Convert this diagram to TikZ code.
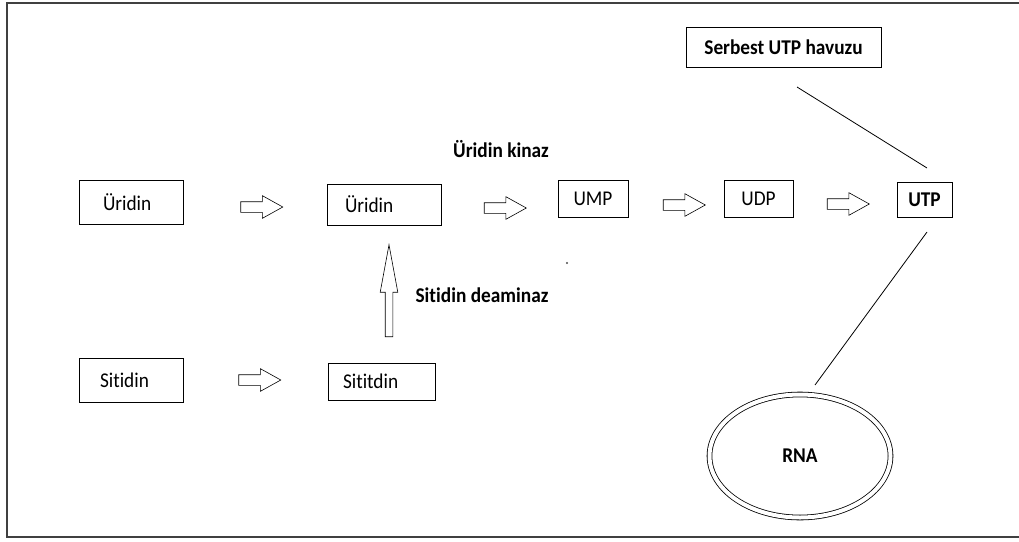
\documentclass[tikz,border=0pt]{standalone}
\usepackage{fontspec}
\setmainfont{Carlito}[Ligatures=NoCommon, FakeStretch=0.92]
\usetikzlibrary{shapes.arrows,shapes.geometric}

\begin{document}
\begin{tikzpicture}[x=1pt,y=-1pt,
  txt/.style={font=\fontsize{21}{23}\selectfont},
  btxt/.style={font=\bfseries\fontsize{21}{23}\selectfont},
  box/.style={draw, line width=0.9pt, inner sep=0pt, txt},
  lbl/.style={btxt, inner sep=0pt},
  blockarrow/.style={draw, single arrow, line width=0.6pt, inner xsep=0pt},
  harrow/.style={blockarrow, inner ysep=5pt, minimum width=22pt,
    single arrow head extend=6pt, single arrow tip angle=58, minimum height=42pt},
  varrow/.style={blockarrow, inner ysep=3.5pt, minimum width=17pt,
    single arrow head extend=5pt, single arrow tip angle=21, minimum height=92pt, rotate=90},
  frame/.style={line width=1.6pt, black!75}
]
\useasboundingbox (0,0) rectangle (1019,541);

% outer frame (open on the right)
\draw[frame] (1019,3) -- (7,3) -- (7,537) -- (1019,537);

% boxes of the pathway
\node[box, minimum width=104, minimum height=44, text width=56, align=left] (uridinA) at (131,202) {Üridin};
\node[box, minimum width=114, minimum height=41, text width=78, align=left] (uridinB) at (384,204.5) {Üridin};
\node[box, minimum width=70, minimum height=37] (ump) at (593,198.5) {UMP};
\node[box, minimum width=69, minimum height=37] (udp) at (758.5,198.5) {UDP};
\node[box, minimum width=55, minimum height=35, btxt] (utp) at (924.5,200) {UTP};
\node[box, minimum width=104, minimum height=44, text width=62, align=left] (sitidin) at (131,380) {Sitidin};
\node[box, minimum width=107, minimum height=37, text width=77, align=left] (sititdin) at (381.5,381.5) {Sititdin};
\node[box, minimum width=195, minimum height=40, btxt] (havuz) at (783.5,47) {Serbest UTP havuzu};

% RNA
\node[draw, ellipse, double, double distance=4pt, line width=0.8pt,
      minimum width=181, minimum height=123, lbl] (rna) at (800,456) {RNA};

% enzyme labels
\node[lbl] (kinaz) at (501,149) {Üridin kinaz};
\node[lbl] (deaminaz) at (482,295) {Sitidin deaminaz};

% block arrows
\node[harrow] (ar1) at (257,207) {};
\node[harrow] (ar2) at (500.5,208) {};
\node[harrow] (ar3) at (679.5,205) {};
\node[harrow] (ar4) at (843.5,204) {};
\node[harrow] (ar5) at (255,380) {};
\node[varrow] (ar6) at (389,301) {};

% connecting lines
\coordinate (h1) at (797,87);
\coordinate (h2) at (927,168);
\coordinate (r1) at (927,232);
\coordinate (r2) at (815,385);
\draw[line width=0.8pt] (h1) -- (h2);
\draw[line width=0.8pt] (r1) -- (r2);

% stray speck
\fill[black!70] (567,263) circle (1.1);
\end{tikzpicture}
\end{document}
